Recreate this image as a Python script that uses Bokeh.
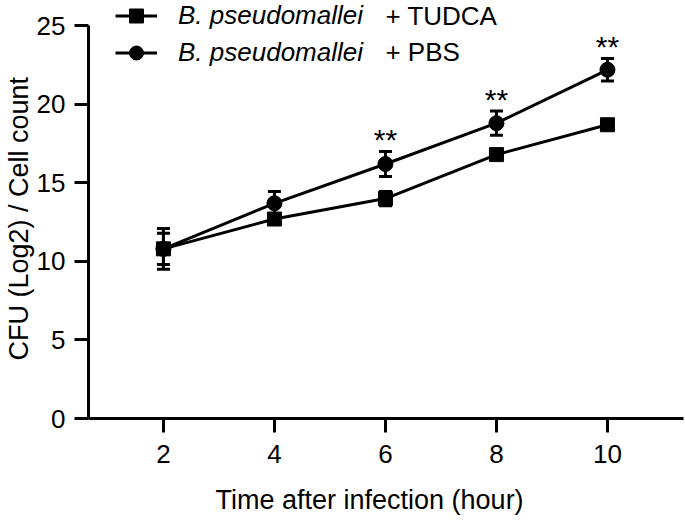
import math
from bokeh.plotting import figure
from bokeh.models import (Range1d, FixedTicker, Whisker, TeeHead, ColumnDataSource,
                          Legend, LegendItem, Label, Title)
from bokeh.embed import file_html
from bokeh.resources import INLINE
from bokeh.core.properties import value

# ---- data ----
hours = [2, 4, 6, 8, 10]
tudca_mean = [10.8, 12.7, 14.0, 16.8, 18.7]
tudca_sem = [1.0, 0.3, 0.45, 0.3, 0.3]
pbs_mean = [10.8, 13.7, 16.2, 18.8, 22.2]
pbs_sem = [1.3, 0.75, 0.8, 0.77, 0.72]
sig_hours = [6, 8, 10]
sig_labels = ["**", "**", "**"]
x_ticks = [2, 4, 6, 8, 10]
y_ticks = [0, 5, 10, 15, 20, 25]
series_names = ["B. pseudomallei", "B. pseudomallei"]
series_suffix = ["+ TUDCA", "+ PBS"]
x_title = "Time after infection (hour)"
y_title = "CFU (Log2) / Cell count"

FONT = "Liberation Sans"
INK = "#000000"

p = figure(width=685, height=520, output_backend="svg", toolbar_location=None,
           x_range=Range1d(0.65, 11.37), y_range=Range1d(0, 26.61),
           min_border_left=88, min_border_right=2, min_border_top=0, min_border_bottom=102)
p.outline_line_color = None
p.xgrid.grid_line_color = None
p.ygrid.grid_line_color = None
p.background_fill_color = "white"

for ax in (p.xaxis[0], p.yaxis[0]):
    ax.axis_line_width = 3
    ax.axis_line_color = INK
    ax.major_tick_line_width = 3
    ax.major_tick_line_color = INK
    ax.major_tick_out = 14
    ax.major_tick_in = 0
    ax.minor_tick_line_color = None
    ax.major_label_text_font = FONT
    ax.major_label_text_font_size = "26px"
    ax.major_label_text_color = INK
p.xaxis[0].major_label_standoff = 12
p.yaxis[0].major_label_standoff = 9
p.xaxis[0].ticker = FixedTicker(ticks=x_ticks)
p.yaxis[0].ticker = FixedTicker(ticks=y_ticks)
p.yaxis[0].bounds = (0, 25)
# spacer between the x tick labels and the x title
p.xaxis[0].axis_label = " "
p.xaxis[0].axis_label_text_font_size = "1px"
p.xaxis[0].axis_label_standoff = 13

src_t = ColumnDataSource(dict(x=hours, y=tudca_mean,
                              lo=[m - s for m, s in zip(tudca_mean, tudca_sem)],
                              hi=[m + s for m, s in zip(tudca_mean, tudca_sem)]))
src_p = ColumnDataSource(dict(x=hours, y=pbs_mean,
                              lo=[m - s for m, s in zip(pbs_mean, pbs_sem)],
                              hi=[m + s for m, s in zip(pbs_mean, pbs_sem)]))

l_t = p.line("x", "y", source=src_t, line_width=3, line_color=INK)
l_p = p.line("x", "y", source=src_p, line_width=3, line_color=INK)

for src in (src_t, src_p):
    w = Whisker(source=src, base="x", lower="lo", upper="hi", dimension="height",
                line_width=3, line_color=INK,
                upper_head=TeeHead(size=13, line_width=3, line_color=INK),
                lower_head=TeeHead(size=13, line_width=3, line_color=INK))
    p.add_layout(w)

m_t = p.scatter("x", "y", source=src_t, marker="square", size=14, color=INK)
m_p = p.scatter("x", "y", source=src_p, marker="circle", size=15, color=INK)

sig_y = [pbs_mean[hours.index(h)] + pbs_sem[hours.index(h)] for h in sig_hours]
p.text(x=sig_hours, y=sig_y, text=sig_labels, text_align="center", text_baseline="alphabetic",
       text_font=value(FONT), text_font_size="30px", text_color=INK, y_offset=-12)

legend = Legend(items=[LegendItem(label=series_names[0], renderers=[l_t, m_t]),
                       LegendItem(label=series_names[1], renderers=[l_p, m_p])],
                location=(27, 348.5), padding=0, margin=0, spacing=2,
                glyph_width=42, glyph_height=35, label_height=35, label_standoff=21,
                label_text_font=FONT, label_text_font_style="italic",
                label_text_font_size="26px", label_text_color=INK,
                background_fill_alpha=0, border_line_alpha=0)
p.add_layout(legend)

for txt, yy in zip(series_suffix, [25.65, 23.3]):
    p.add_layout(Label(x=6.0, y=yy, text=txt, text_align="left", text_baseline="middle",
                       text_font=FONT, text_font_size="26px", text_color=INK))

xt = Title(text=x_title, align="left", offset=127, standoff=0,
           text_font=FONT, text_font_size="27px", text_font_style="normal", text_color=INK)
p.add_layout(xt, "below")
yt = Title(text=y_title, align="left", offset=58, standoff=0,
           text_font=FONT, text_font_size="27px", text_font_style="normal", text_color=INK)
p.add_layout(yt, "left")

open("out.html", "w").write(file_html(p, INLINE))
